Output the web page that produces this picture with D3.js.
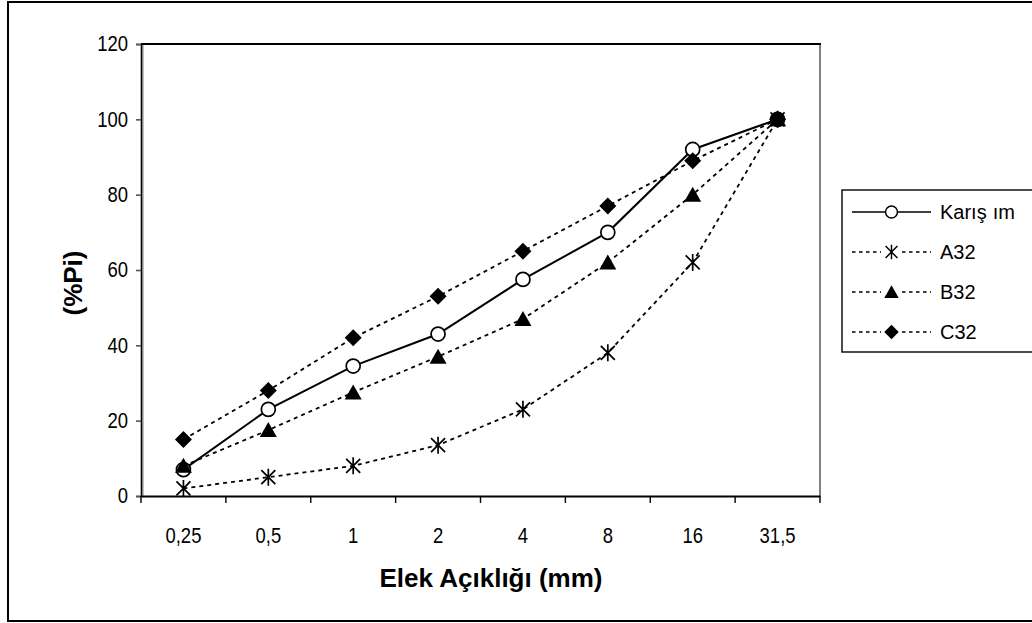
<!DOCTYPE html>
<html>
<head>
<meta charset="utf-8">
<script src="https://cdn.jsdelivr.net/npm/d3@7"></script>
<style>
  html, body { margin: 0; padding: 0; background: #fff; }
  svg { display: block; }
  text { font-family: "Liberation Sans", Arial, sans-serif; fill: #000; }
</style>
</head>
<body>
<svg id="chart" width="1032" height="623"></svg>
<script>
// Sieve sizes (mm) and cumulative passing percentages
const categories = ["0,25", "0,5", "1", "2", "4", "8", "16", "31,5"];
const karisim = [7, 23, 34.5, 43, 57.5, 70, 92, 100];
const a32 = [2, 5, 8, 13.5, 23, 38, 62, 100];
const b32 = [8, 17.5, 27.5, 37, 47, 62, 80, 100];
const c32 = [15, 28, 42, 53, 65, 77, 89, 100];
const yTicks = [0, 20, 40, 60, 80, 100, 120];
const seriesNames = ["Karışım", "A32", "B32", "C32"];

const svg = d3.select("#chart");

// Outer chart frame (right edge runs past the canvas)
svg.append("rect")
  .attr("x", 8).attr("y", 2).attr("width", 1040).attr("height", 619)
  .attr("fill", "#fff").attr("stroke", "#000").attr("stroke-width", 2);

const plot = { left: 141, right: 820, top: 44, bottom: 496 };

const x = d3.scaleBand().domain(categories).range([plot.left, plot.right]).padding(0);
const y = d3.scaleLinear().domain([0, 120]).range([plot.bottom, plot.top]);
const cx = d => x(d) + x.bandwidth() / 2;

// Plot area border
svg.append("line").attr("x1", plot.right).attr("x2", plot.right)
  .attr("y1", plot.top).attr("y2", plot.bottom)
  .attr("stroke", "#808080").attr("stroke-width", 2);
svg.append("line").attr("x1", plot.left + 2).attr("x2", plot.left + 2)
  .attr("y1", plot.top).attr("y2", plot.bottom)
  .attr("stroke", "#808080").attr("stroke-width", 1);
svg.append("line").attr("x1", plot.left).attr("x2", plot.right + 1)
  .attr("y1", plot.top).attr("y2", plot.top)
  .attr("stroke", "#000").attr("stroke-width", 2);

// Tick labels are set in a narrow, tall face
const tickFont = 21.5, squeeze = 0.86;

// Y axis
const yAxis = svg.append("g")
  .attr("transform", `translate(${plot.left},0)`)
  .call(d3.axisLeft(y).tickValues(yTicks).tickSize(5).tickPadding(8).tickFormat(d3.format("d")));
yAxis.select(".domain").attr("stroke", "#000").attr("stroke-width", 1.6);
yAxis.selectAll(".tick line").attr("stroke", "#555").attr("stroke-width", 1.6);
yAxis.selectAll(".tick text")
  .attr("font-size", tickFont).attr("font-family", "Liberation Sans, Arial, sans-serif")
  .attr("x", -13 / squeeze).attr("transform", `scale(${squeeze},1)`);

// X axis: labels centred in each band, tick marks on band boundaries
const xAxis = svg.append("g")
  .attr("transform", `translate(0,${plot.bottom})`)
  .call(d3.axisBottom(x).tickSize(0).tickPadding(0).tickSizeOuter(0));
xAxis.select(".domain").attr("stroke", "#000").attr("stroke-width", 2);
xAxis.selectAll(".tick text")
  .attr("font-size", tickFont).attr("font-family", "Liberation Sans, Arial, sans-serif")
  .attr("dy", 0).attr("y", 47).attr("transform", `scale(${squeeze},1)`);
const edges = categories.map(c => x(c)).concat([x(categories[categories.length - 1]) + x.bandwidth()]);
xAxis.selectAll(".edge").data(edges).enter().append("line")
  .attr("x1", d => d).attr("x2", d => d).attr("y1", 0).attr("y2", 7)
  .attr("stroke", "#000").attr("stroke-width", 1.4);

// Axis titles
svg.append("text")
  .attr("x", 491).attr("y", 587)
  .attr("text-anchor", "middle").attr("font-size", 26).attr("font-weight", "bold")
  .text("Elek Açıklığı (mm)");
svg.append("text")
  .attr("transform", `translate(82,${(plot.top + plot.bottom) / 2 + 13}) rotate(-90)`)
  .attr("text-anchor", "middle").attr("font-size", 26).attr("font-weight", "bold")
  .text("(%Pi)");

// Marker shapes
const markers = {
  circle: sel => sel.append("circle").attr("r", 7).attr("fill", "#fff").attr("stroke", "#000").attr("stroke-width", 1.7),
  star: sel => sel.append("path").attr("d", "M-7,-7L7,7M-7,7L7,-7M0,-8.5L0,8.5")
    .attr("fill", "none").attr("stroke", "#000").attr("stroke-width", 1.7),
  triangle: sel => sel.append("path").attr("d", "M0,-8L8.5,7L-8.5,7Z").attr("fill", "#000"),
  diamond: sel => sel.append("path").attr("d", "M0,-8.5L8.5,0L0,8.5L-8.5,0Z").attr("fill", "#000")
};

const series = [
  { name: seriesNames[0], values: karisim, dash: null, marker: "circle" },
  { name: seriesNames[1], values: a32, dash: "4,4", marker: "star" },
  { name: seriesNames[2], values: b32, dash: "4,4", marker: "triangle" },
  { name: seriesNames[3], values: c32, dash: "4,4", marker: "diamond" }
];

const line = d3.line().x((d, i) => cx(categories[i])).y(d => y(d));

series.forEach(s => {
  const g = svg.append("g");
  g.append("path").datum(s.values)
    .attr("d", line).attr("fill", "none").attr("stroke", "#000")
    .attr("stroke-width", s.dash ? 1.8 : 2)
    .attr("stroke-dasharray", s.dash);
  s.values.forEach((v, i) => {
    const m = g.append("g").attr("transform", `translate(${cx(categories[i])},${y(v)})`);
    markers[s.marker](m);
  });
});

// Legend
const legend = svg.append("g");
legend.append("rect")
  .attr("x", 842).attr("y", 190).attr("width", 200).attr("height", 162)
  .attr("fill", "#fff").attr("stroke", "#000").attr("stroke-width", 1.4);
series.forEach((s, i) => {
  const ry = 212 + i * 40;
  const row = legend.append("g");
  if (s.dash) {
    row.append("line").attr("x1", 852).attr("x2", 881).attr("y1", ry).attr("y2", ry)
      .attr("stroke", "#000").attr("stroke-width", 1.4).attr("stroke-dasharray", "3.5,3.5");
    row.append("line").attr("x1", 902).attr("x2", 931).attr("y1", ry).attr("y2", ry)
      .attr("stroke", "#000").attr("stroke-width", 1.4).attr("stroke-dasharray", "3.5,3.5");
  } else {
    row.append("line").attr("x1", 852).attr("x2", 931).attr("y1", ry).attr("y2", ry)
      .attr("stroke", "#000").attr("stroke-width", 1.6);
  }
  const m = row.append("g").attr("transform", `translate(891.5,${ry}) scale(0.85)`);
  markers[s.marker](m);
  const t = row.append("text").attr("x", 940).attr("y", ry).attr("dy", "0.36em")
    .attr("font-size", 20);
  if (s.name === "Karışım") {
    // the label is set with a wider gap after "ş"
    t.append("tspan").text("Karış");
    t.append("tspan").attr("dx", 6).text("ım");
  } else {
    t.text(s.name);
  }
});
</script>
</body>
</html>
